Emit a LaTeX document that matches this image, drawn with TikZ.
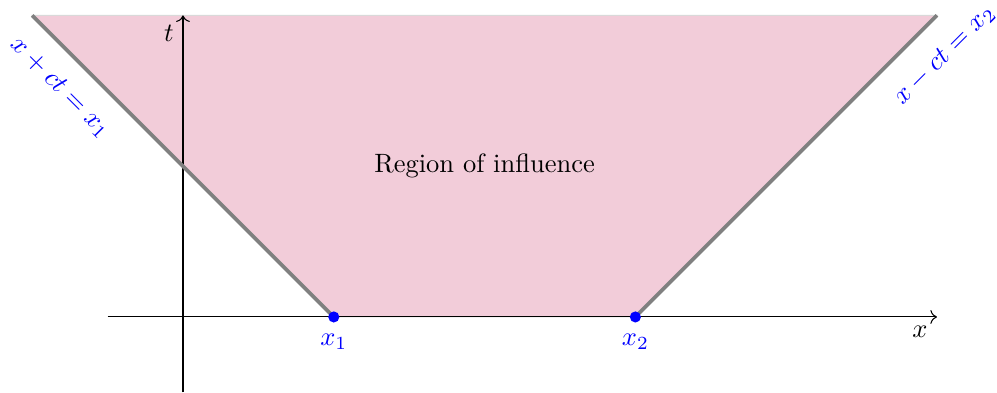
\documentclass[tikz,border=0pt]{standalone}
\usepackage{amsmath,amssymb}
\usetikzlibrary{arrows.meta,positioning,calc}
\tikzset{
  % Axes: thin black with plain tip
  axis/.style={->, line width=0.4pt},
  % Characteristic boundary lines
  charline/.style={gray, line width=1.4pt},
  % Shaded region
  region/.style={fill=purple!20, draw=gray!30, line width=0.4pt},
  % Point on the x-axis and its label
  ptdot/.style={circle, fill=blue, inner sep=0pt, minimum size=4.2pt},
  ptlabel/.style={text=blue, below=3pt},
  % Line labels
  linelabel/.style={text=blue, inner sep=1pt}
}
\begin{document}
\begin{tikzpicture}

\useasboundingbox (-2.427,-1) rectangle (10.796,4.204);

% ============== KEY POINTS ==============
\coordinate (x1) at (2,0);
\coordinate (x2) at (6,0);
\coordinate (tl) at (-2,4);
\coordinate (tr) at (10,4);

% ============== REGION ==============
\filldraw[region] (tl) -- (x1) -- (x2) -- (tr) -- cycle;

% ============== AXES ==============
\coordinate (xs) at (-1,0);
\coordinate (xe) at (10,0);
\coordinate (ts) at (0,-1);
\coordinate (te) at (0,4);
\draw[axis] (xs) -- (xe);
\draw[axis] (ts) -- (te);
\node[below left] (xlab) at (xe) {$x$};
\node[below left] (tlab) at (te) {$t$};

% ============== BOUNDARIES ==============
\draw[charline] (x1) -- (tl);
\draw[charline] (x2) -- (tr);
\node[linelabel, rotate=-45] (leftlab) at (-1.63,3.04) {$x+ct=x_1$};
\node[linelabel, rotate=45] (rightlab) at (10.1,3.47) {$x-ct=x_2$};

% ============== POINTS ==============
\node[ptdot] (p1) at (x1) {};
\node[ptdot] (p2) at (x2) {};
\node[ptlabel] at (p1) {$x_1$};
\node[ptlabel] at (p2) {$x_2$};

\node (inf) at (4,2) {Region of influence};

\end{tikzpicture}
\end{document}
